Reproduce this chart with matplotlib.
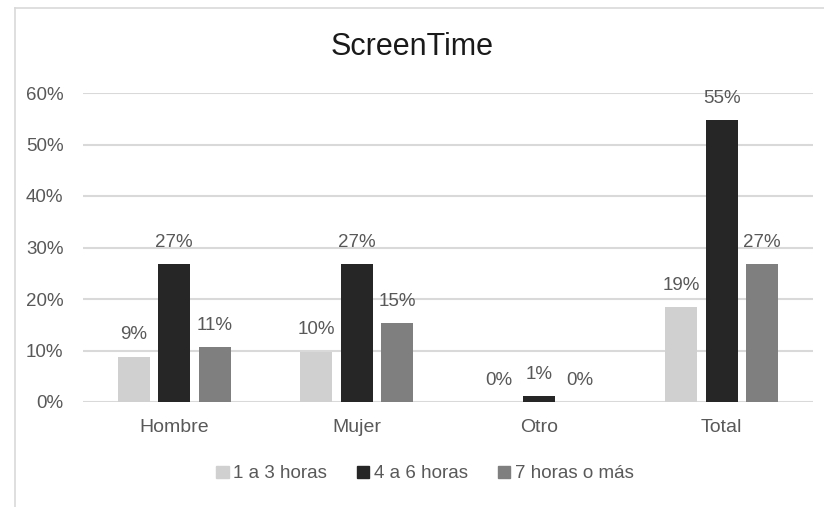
import matplotlib
matplotlib.use("Agg")
import matplotlib.pyplot as plt
import numpy as np
from matplotlib.lines import Line2D

categories = ["Hombre", "Mujer", "Otro", "Total"]
series_names = ["1 a 3 horas", "4 a 6 horas", "7 horas o más"]
v_1a3 = [0.088, 0.098, 0.0, 0.184]
v_4a6 = [0.268, 0.268, 0.012, 0.548]
v_7mas = [0.107, 0.153, 0.0, 0.268]
labels_1a3 = ["9%", "10%", "0%", "19%"]
labels_4a6 = ["27%", "27%", "1%", "55%"]
labels_7mas = ["11%", "15%", "0%", "27%"]
yticks = [0, 0.1, 0.2, 0.3, 0.4, 0.5, 0.6]
ytick_labels = ["0%", "10%", "20%", "30%", "40%", "50%", "60%"]

colors = ["#d0d0d0", "#262626", "#7f7f7f"]
txt = "#595959"
plt.rcParams['font.family'] = ['Liberation Sans', 'DejaVu Sans']

fig = plt.figure(figsize=(8.24, 5.07), dpi=100)
ax = fig.add_axes([83/824, 1-402/507, (813-83)/824, (402-93)/507])

x = np.arange(len(categories))
w = 0.175
step = 0.222
all_vals = [v_1a3, v_4a6, v_7mas]
all_labels = [labels_1a3, labels_4a6, labels_7mas]
for i, (vals, labs) in enumerate(zip(all_vals, all_labels)):
    xs = x + (i - 1) * step
    ax.bar(xs, vals, width=w, color=colors[i], zorder=3, label=series_names[i])
    for xi, v, lb in zip(xs, vals, labs):
        ax.annotate(lb, (xi, v), xytext=(0, 9.5), textcoords="offset points",
                    ha="center", va="bottom", fontsize=13.5, color=txt)

ax.set_xlim(-0.5, 3.5)
ax.set_ylim(0, 0.6)
ax.set_yticks(yticks)
ax.set_yticklabels(ytick_labels)
ax.set_xticks(x)
ax.set_xticklabels(categories)
ax.grid(axis="y", color="#d9d9d9", linewidth=1.5, zorder=0)
ax.tick_params(axis="y", length=0, colors=txt, labelsize=13.5, pad=14)
ax.tick_params(axis="x", length=0, colors=txt, labelsize=14, pad=12)
for s in ax.spines.values():
    s.set_visible(False)
ax.set_axisbelow(True)

fig.text(0.5, 1-47/507, "ScreenTime", ha="center", va="center", fontsize=22, color="#1a1a1a")

handles = [plt.Rectangle((0, 0), 1, 1, color=c) for c in colors]
fig.legend(handles, series_names, loc="center", bbox_to_anchor=(0.516, 1-474/507),
           ncol=3, frameon=False, prop={'size': 13.5}, handlelength=0.65, handleheight=0.65,
           handletextpad=0.25, columnspacing=1.6, labelcolor=txt)

fig.add_artist(Line2D([15/824, 15/824], [0, 1-8/507], color="#d9d9d9", lw=1.2))
fig.add_artist(Line2D([15/824, 1], [1-8/507, 1-8/507], color="#d9d9d9", lw=1.2))

fig.savefig("out.png", dpi=100, facecolor="white")
